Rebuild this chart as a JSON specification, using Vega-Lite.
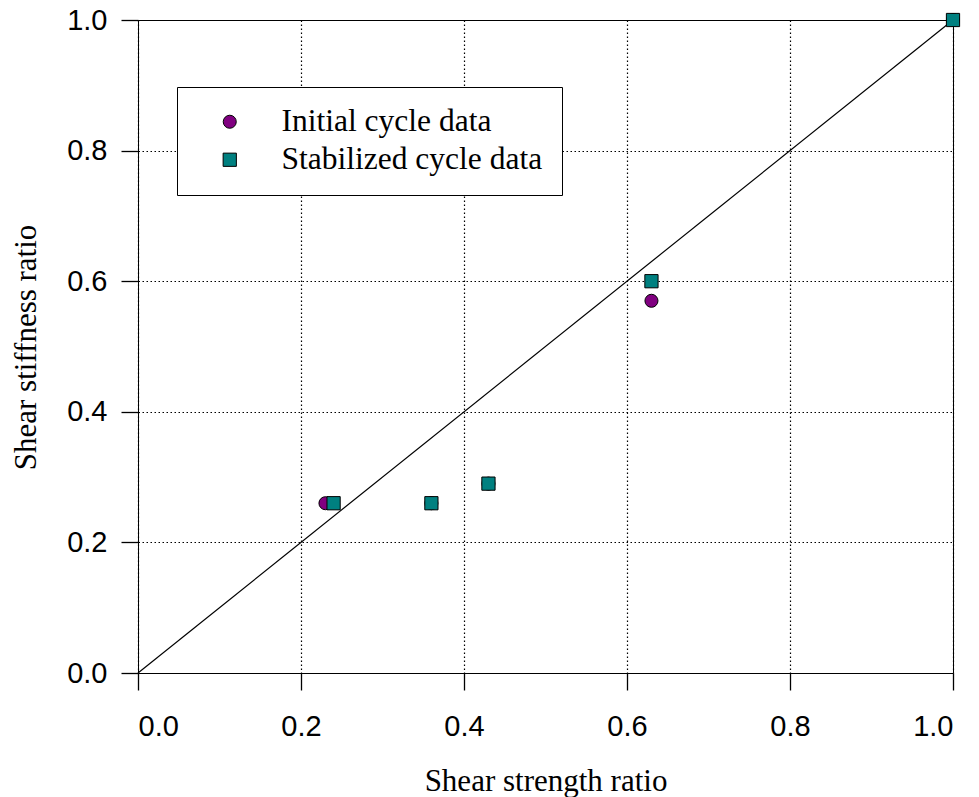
{
  "$schema": "https://vega.github.io/schema/vega-lite/v6.json",
  "width": 815,
  "height": 653,
  "autosize": "none",
  "padding": {"left": 138, "top": 20, "right": 26, "bottom": 124},
  "background": "white",
  "config": {
    "view": {"stroke": "black", "strokeWidth": 1},
    "axis": {
      "domain": false,
      "grid": true,
      "gridColor": "black",
      "gridDash": [1.5, 2.5],
      "gridWidth": 1.2,
      "gridOpacity": 1,
      "tickColor": "black",
      "tickSize": 17,
      "tickWidth": 1.3,
      "labelFont": "Liberation Sans",
      "labelFontSize": 29,
      "labelColor": "black",
      "titleFont": "Liberation Serif",
      "titleFontSize": 31,
      "titleFontWeight": "normal",
      "titleColor": "black"
    }
  },
  "datasets": {
    "points": [
      {"series": "Initial cycle data", "strength": 0.23, "stiffness": 0.26},
      {"series": "Initial cycle data", "strength": 0.36, "stiffness": 0.26},
      {"series": "Initial cycle data", "strength": 0.43, "stiffness": 0.29},
      {"series": "Initial cycle data", "strength": 0.63, "stiffness": 0.57},
      {"series": "Initial cycle data", "strength": 1.0, "stiffness": 1.0},
      {"series": "Stabilized cycle data", "strength": 0.24, "stiffness": 0.26},
      {"series": "Stabilized cycle data", "strength": 0.36, "stiffness": 0.26},
      {"series": "Stabilized cycle data", "strength": 0.43, "stiffness": 0.29},
      {"series": "Stabilized cycle data", "strength": 0.63, "stiffness": 0.60},
      {"series": "Stabilized cycle data", "strength": 1.0, "stiffness": 1.0}
    ],
    "diagonal": [
      {"strength": 0, "stiffness": 0},
      {"strength": 1, "stiffness": 1}
    ]
  },
  "layer": [
    {
      "data": {"name": "diagonal"},
      "mark": {"type": "line", "color": "black", "strokeWidth": 1.2},
      "encoding": {
        "x": {"field": "strength", "type": "quantitative", "scale": {"domain": [0, 1], "nice": false},
          "axis": {"title": "Shear strength ratio", "values": [0, 0.2, 0.4, 0.6, 0.8, 1.0], "format": ".1f",
            "labelPadding": 22, "titleY": 117, "titleBaseline": "alphabetic"}},
        "y": {"field": "stiffness", "type": "quantitative", "scale": {"domain": [0, 1], "nice": false},
          "axis": {"title": "Shear stiffness ratio", "values": [0, 0.2, 0.4, 0.6, 0.8, 1.0], "format": ".1f",
            "labelPadding": 14, "titleX": -103, "titleY": 327, "titleBaseline": "alphabetic", "titleAngle": 270}}
      }
    },
    {
      "data": {"name": "points"},
      "mark": {"type": "point", "filled": true, "stroke": "black", "strokeWidth": 1, "opacity": 1},
      "encoding": {
        "x": {"field": "strength", "type": "quantitative"},
        "y": {"field": "stiffness", "type": "quantitative"},
        "color": {"field": "series", "type": "nominal",
          "scale": {"domain": ["Initial cycle data", "Stabilized cycle data"], "range": ["#800080", "#008080"]},
          "legend": {"title": null, "orient": "none", "legendX": 39, "legendY": 67,
            "strokeColor": "black", "fillColor": "white", "padding": 19,
            "symbolOffset": 18, "labelOffset": 36, "rowPadding": 5, "symbolSize": 170,
            "symbolStrokeColor": "black", "symbolStrokeWidth": 1,
            "labelFont": "Liberation Serif", "labelFontSize": 31.5, "labelColor": "black", "labelLimit": 500}},
        "shape": {"field": "series", "type": "nominal",
          "scale": {"domain": ["Initial cycle data", "Stabilized cycle data"], "range": ["circle", "square"]},
          "legend": {"title": null, "orient": "none", "legendX": 39, "legendY": 67,
            "strokeColor": "black", "fillColor": "white", "padding": 19,
            "symbolOffset": 18, "labelOffset": 36, "rowPadding": 5, "symbolSize": 170,
            "symbolStrokeColor": "black", "symbolStrokeWidth": 1,
            "labelFont": "Liberation Serif", "labelFontSize": 31.5, "labelColor": "black", "labelLimit": 500}},
        "size": {"field": "series", "type": "nominal",
          "scale": {"domain": ["Initial cycle data", "Stabilized cycle data"], "range": [170, 175]},
          "legend": null}
      }
    }
  ]
}
